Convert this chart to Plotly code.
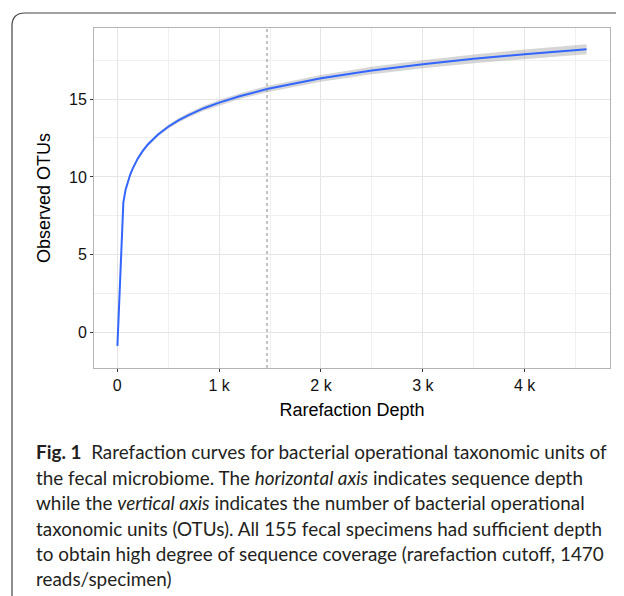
import plotly.graph_objects as go

# Data
depth = [1, 59, 80, 100, 125, 150, 175, 200, 250, 300, 400, 500, 600, 700, 850, 1000, 1200,
         1470, 2000, 2500, 3000, 3500, 4000, 4608]
otus = [-0.85, 8.33, 9.15, 9.62, 10.12, 10.52, 10.87, 11.17, 11.67, 12.08, 12.72, 13.22, 13.63,
        13.97, 14.41, 14.77, 15.18, 15.64, 16.33, 16.83, 17.23, 17.58, 17.88, 18.2]
band_half = [0.4, 0.12, 0.11, 0.1, 0.1, 0.1, 0.1, 0.1, 0.1, 0.11, 0.12, 0.13, 0.14, 0.15,
             0.16, 0.17, 0.18, 0.2, 0.22, 0.24, 0.26, 0.28, 0.3, 0.32]
cutoff = 1470
x_ticks = [0, 1000, 2000, 3000, 4000]
x_ticktext = ["0", "1 k", "2 k", "3 k", "4 k"]
y_ticks = [0, 5, 10, 15]

caption_lines = [
    "<b>Fig. 1</b>  Rarefaction curves for bacterial operational taxonomic units of",
    "the fecal microbiome. The <i>horizontal axis</i> indicates sequence depth",
    "while the <i>vertical axis</i> indicates the number of bacterial operational",
    "taxonomic units (OTUs). All 155 fecal specimens had sufficient depth",
    "to obtain high degree of sequence coverage (rarefaction cutoff, 1470",
    "reads/specimen)",
]
caption_y = [451, 477, 502, 528, 553, 578]

upper = [v + h for v, h in zip(otus, band_half)]
lower = [v - h for v, h in zip(otus, band_half)]

OFF = 8  # page body margin
W, H = 624 - OFF, 596 - OFF
L, R, T, B = 94 - OFF, 610 - OFF, 28 - OFF, 368 - OFF

def px(x):
    return (x - OFF - L) / (R - L)

def py(y):
    return (B - (y - OFF)) / (B - T)

fig = go.Figure()
fig.add_trace(go.Scatter(x=depth + depth[::-1], y=upper + lower[::-1], fill="toself",
                         fillcolor="rgba(153,153,153,0.4)", line=dict(width=0),
                         hoverinfo="skip", showlegend=False))
fig.add_trace(go.Scatter(x=depth, y=otus, mode="lines",
                         line=dict(color="#3366FF", width=2), showlegend=False))

fig.add_shape(type="line", xref="x", yref="paper", x0=cutoff, x1=cutoff, y0=0, y1=1,
              line=dict(color="#888888", width=1, dash="dot"))

# outer frame with rounded corner
path = (f"M {px(12)},{py(620)} L {px(12)},{py(26)} Q {px(12)},{py(13)} {px(25)},{py(13)} "
        f"L {px(650)},{py(13)}")
fig.add_shape(type="path", xref="paper", yref="paper", path=path,
              line=dict(color="#444444", width=1.2))

for line, yy in zip(caption_lines, caption_y):
    fig.add_annotation(xref="paper", yref="paper", x=px(34), y=py(yy), xanchor="left",
                       yanchor="middle", text=line, showarrow=False, align="left",
                       font=dict(family="Lato, Noto Sans, sans-serif", size=18.9, color="#231f20"))

axis_common = dict(showline=True, linecolor="#b3b3b3", linewidth=1, mirror=True,
                   gridcolor="#e5e5e5", gridwidth=1, zeroline=False,
                   ticks="outside", ticklen=3, tickcolor="#333333",
                   tickfont=dict(family="Liberation Sans, Arial", size=16, color="#111111"),
                   minor=dict(showgrid=True, gridcolor="#f0f0f0", gridwidth=0.6))

fig.update_xaxes(range=[-229, 4838], tickvals=x_ticks, ticktext=x_ticktext,
                 title=dict(text="Rarefaction Depth", standoff=10,
                            font=dict(family="Liberation Sans, Arial", size=18, color="#000000")),
                 **axis_common)
fig.update_xaxes(minor=dict(tickvals=[500, 1500, 2500, 3500, 4500], ticks=""))
fig.update_yaxes(range=[-2.27, 19.56], tickvals=y_ticks,
                 title=dict(text="Observed OTUs", standoff=13,
                            font=dict(family="Liberation Sans, Arial", size=18, color="#000000")),
                 **axis_common)
fig.update_yaxes(minor=dict(tickvals=[-2.5, 2.5, 7.5, 12.5, 17.5], ticks=""))

fig.update_layout(width=W, height=H, margin=dict(l=L, r=W - R, t=T, b=H - B),
                  plot_bgcolor="white", paper_bgcolor="white")

fig.write_html("out.html")
